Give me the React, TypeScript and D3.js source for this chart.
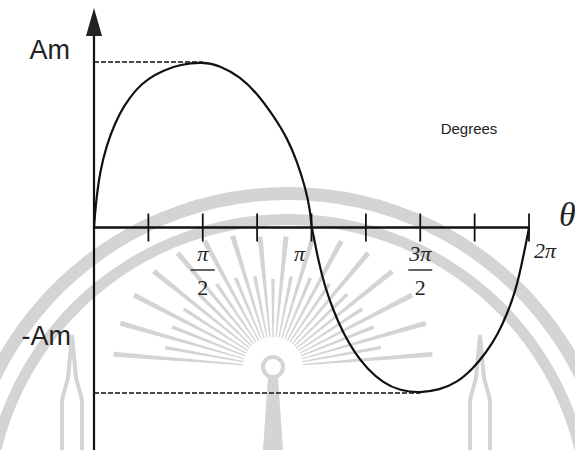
import React from "react";
import * as d3 from "d3";

// Waveform traced in degrees, values in units of Am
const degrees = [0, 1.7, 5, 10.5, 17.4, 24.2, 35.3, 45, 57.4, 71.2, 90, 104, 121, 135, 148, 160, 168, 175, 179, 180, 181.5, 185.6, 191.2, 198, 206.3, 216, 225.7, 239.4, 253.2, 270, 286, 300, 314, 324, 334, 342, 349, 354, 358.5, 360];
const values = [0, 0.16, 0.34, 0.5, 0.63, 0.73, 0.84, 0.9, 0.95, 0.985, 1, 0.98, 0.91, 0.81, 0.68, 0.54, 0.4, 0.24, 0.1, 0, -0.04, -0.2, -0.36, -0.5, -0.64, -0.76, -0.85, -0.94, -0.985, -1, -0.98, -0.94, -0.85, -0.76, -0.65, -0.52, -0.38, -0.22, -0.06, 0];
const tickDegrees = [45, 90, 135, 180, 225, 270, 315, 360];
const fracLabels = [
  { deg: 90, num: "π" },
  { deg: 270, num: "3π" },
];

const W = 575;
const H = 450;
const WM = "#d4d4d4";

export default function App() {
  const x = d3.scaleLinear().domain([0, 360]).range([94, 529]);
  const y = d3.scaleLinear().domain([-1, 1]).range([393, 62]);
  const y0 = y(0);
  const x0 = x(0);

  const pts = degrees.map((a, i) => [a, values[i]] as [number, number]);
  const line = d3
    .line<[number, number]>()
    .x((d) => x(d[0]))
    .y((d) => y(d[1]))
    .curve(d3.curveBasis);

  // faint background emblem: concentric bands and a sunburst
  const emblemCx = 288;
  const emblemCy = 520;
  const sunCx = 273;
  const sunCy = 367;
  const rays = d3.range(0, 31).map((i) => {
    const t = Math.PI + 0.08 + (i / 30) * (Math.PI - 0.16);
    const long = i % 2 === 0;
    const c = Math.cos(t);
    const s = Math.sin(t);
    const r0 = 30;
    const r1 = (long ? 160 : 110) * (0.8 + 0.2 * Math.abs(c));
    const w0 = 0.6;
    const w1 = long ? 2.6 : 1.8;
    const px = -s;
    const py = c;
    const ax = sunCx + r0 * c;
    const ay = sunCy + r0 * s;
    const bx = sunCx + r1 * c;
    const by = sunCy + r1 * s;
    return `M${ax + px * w0},${ay + py * w0} L${bx + px * w1},${by + py * w1} L${bx - px * w1},${by - py * w1} L${ax - px * w0},${ay - py * w0} Z`;
  });
  const arcGen = d3.arc();
  const bandOuter = arcGen({ innerRadius: 320, outerRadius: 333, startAngle: -Math.PI / 2 - 0.2, endAngle: Math.PI / 2 + 0.2 }) || "";
  const bandInner = arcGen({ innerRadius: 295, outerRadius: 306, startAngle: -Math.PI / 2 - 0.2, endAngle: Math.PI / 2 + 0.2 }) || "";

  return (
    <svg width={W} height={H} style={{ position: "absolute", left: 0, top: 0, background: "#fff" }}>
      <g fill={WM} stroke="none">
        <path d={bandOuter} transform={`translate(${emblemCx},${emblemCy})`} />
        <path d={bandInner} transform={`translate(${emblemCx},${emblemCy})`} />
        {rays.map((d, i) => (
          <path key={i} d={d} />
        ))}
        <circle cx={sunCx} cy={sunCy} r={10} fill="none" stroke={WM} strokeWidth={4} />
        <path d={`M${sunCx - 5},${sunCy + 10} L${sunCx - 10},${H} L${sunCx + 10},${H} L${sunCx + 5},${sunCy + 10} Z`} />
        <path d={`M62,${H} L62,400 L68,378 L72,335 L76,378 L82,400 L82,${H}`} fill="none" stroke={WM} strokeWidth={4} />
        <path d={`M470,${H} L470,400 L476,378 L480,335 L484,378 L490,400 L490,${H}`} fill="none" stroke={WM} strokeWidth={4} />
      </g>

      {/* vertical axis with arrow head */}
      <line x1={x0} y1={30} x2={x0} y2={H} stroke="#111" strokeWidth={2.2} />
      <path d={`M${x0},8 L${x0 - 8},36 L${x0 + 8},36 Z`} fill="#222" />

      {/* horizontal axis */}
      <line x1={x0} y1={y0} x2={x(360)} y2={y0} stroke="#111" strokeWidth={2.6} />
      {tickDegrees.map((a, i) => (
        <line key={i} x1={x(a)} y1={y0 - 14} x2={x(a)} y2={y0 + 14} stroke="#111" strokeWidth={1.8} />
      ))}

      {/* peak guide lines */}
      <line x1={x0} y1={y(1)} x2={x(90)} y2={y(1)} stroke="#111" strokeWidth={1.5} strokeDasharray="5,2" />
      <line x1={x0} y1={y(-1)} x2={x(270)} y2={y(-1)} stroke="#111" strokeWidth={1.5} strokeDasharray="5,2" />

      {/* waveform */}
      <path d={line(pts) || ""} fill="none" stroke="#111" strokeWidth={2.2} />

      {/* labels */}
      <text x={70} y={y(1) - 3} textAnchor="end" fontFamily="Liberation Sans, Arial, sans-serif" fontSize={27} fill="#222">Am</text>
      <text x={71} y={345} textAnchor="end" fontFamily="Liberation Sans, Arial, sans-serif" fontSize={27} fill="#222">-Am</text>
      <text x={469} y={134} textAnchor="middle" fontFamily="Liberation Sans, Arial, sans-serif" fontSize={15} fill="#222">Degrees</text>
      <text x={559} y={226} fontFamily="Liberation Serif, Times New Roman, serif" fontStyle="italic" fontSize={34} fill="#222">θ</text>

      {fracLabels.map((f, i) => (
        <g key={i} fontFamily="Liberation Serif, Times New Roman, serif" fontSize={22} fill="#222" textAnchor="middle">
          <text x={x(f.deg)} y={261} fontStyle="italic">{f.num}</text>
          <line x1={x(f.deg) - 12} y1={270} x2={x(f.deg) + 12} y2={270} stroke="#222" strokeWidth={1.4} />
          <text x={x(f.deg)} y={295}>2</text>
        </g>
      ))}
      <text x={x(180) - 12} y={261} textAnchor="middle" fontFamily="Liberation Serif, Times New Roman, serif" fontStyle="italic" fontSize={22} fill="#222">π</text>
      <text x={x(360) + 5} y={258} fontFamily="Liberation Serif, Times New Roman, serif" fontStyle="italic" fontSize={22} fill="#222">2π</text>
    </svg>
  );
}
